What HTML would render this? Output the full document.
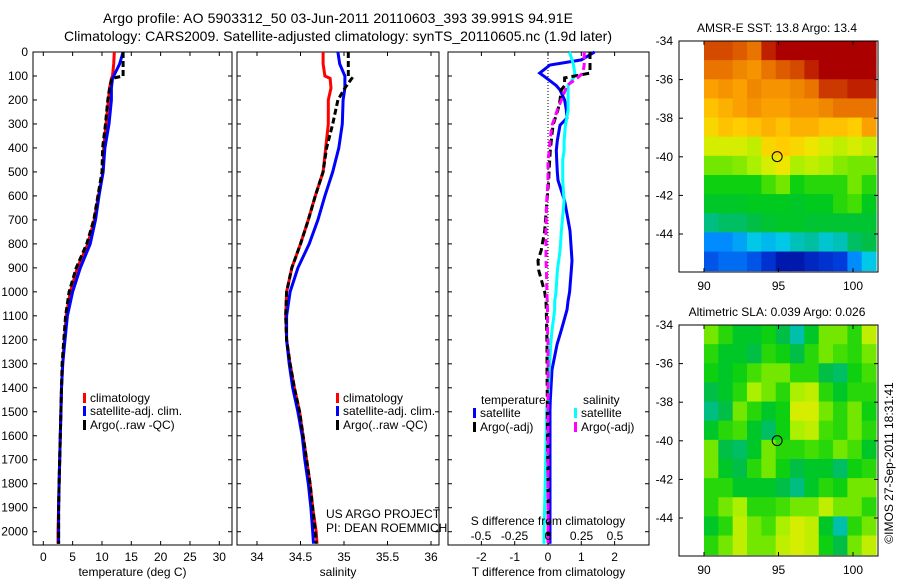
<!DOCTYPE html>
<html><head><meta charset="utf-8"><style>
body{margin:0;background:#fff}
svg{display:block;font-family:"Liberation Sans",sans-serif}
</style></head><body>
<svg id="c" width="900" height="580" viewBox="0 0 900 580">
<rect width="900" height="580" fill="#fff"/>
<text x="338" y="23" font-size="14" text-anchor="middle" textLength="470">Argo profile: AO 5903312_50 03-Jun-2011 20110603_393 39.991S 94.91E</text>
<text x="338" y="41" font-size="14" text-anchor="middle" textLength="548">Climatology: CARS2009. Satellite-adjusted climatology: synTS_20110605.nc (1.9d later)</text>
<g id="g"></g>
</svg>
<script>
// depth grid (m)
const depths=[0,50,100,110,150,200,300,400,500,600,700,800,900,1000,1100,1200,1300,1400,1500,1600,1700,1800,1900,2000,2050];
const tempClim=[12.1,12.0,11.8,11.6,11.3,11.1,10.7,10.3,10.2,9.4,8.7,7.6,5.8,4.6,3.9,3.6,3.3,3.1,3.0,2.9,2.8,2.7,2.6,2.5,2.5];
const tempSat=[13.6,13.0,12.0,11.8,11.6,11.6,11.2,10.5,10.2,9.5,8.9,8.0,6.3,5.0,4.1,3.7,3.3,3.1,3.0,2.9,2.8,2.7,2.6,2.6,2.6];
const tempArgo=[13.6,13.6,13.6,11.7,11.3,11.0,10.6,10.1,10.0,9.3,8.6,7.4,5.6,4.4,3.8,3.5,3.2,3.1,3.0,2.9,2.8,2.7,2.6,2.6,2.6];
const salClim=[34.76,34.76,34.78,34.84,34.85,34.82,34.82,34.79,34.76,34.67,34.59,34.50,34.40,34.34,34.33,34.34,34.38,34.43,34.49,34.53,34.57,34.61,34.64,34.68,34.69];
const salSat=[34.93,34.95,35.01,35.01,35.01,34.99,34.98,34.94,34.87,34.78,34.70,34.60,34.47,34.38,34.34,34.34,34.37,34.41,34.47,34.52,34.55,34.59,34.62,34.64,34.65];
const salArgo=[35.05,35.05,35.05,35.09,35.01,34.93,34.87,34.80,34.76,34.67,34.59,34.50,34.40,34.34,34.33,34.34,34.38,34.43,34.49,34.53,34.57,34.61,34.64,34.67,34.68];
// difference profiles
const diffDepths=[0,33,54,88,108,140,158,200,240,275,305,370,410,450,500,535,620,745,825,870,910,1000,1040,1075,1160,1220,1325,1450,1490,1790,2000,2050];
const dTSat=[1.4,1.0,0.06,-0.25,-0.05,0.25,0.36,0.5,0.55,0.57,0.36,0.28,0.25,0.26,0.28,0.3,0.5,0.66,0.7,0.72,0.7,0.65,0.6,0.57,0.4,0.27,0.12,0.07,0.06,0.06,0.06,0.06];
const dSSat=[0.16,0.18,0.19,0.2,0.19,0.15,0.15,0.15,0.15,0.14,0.13,0.12,0.12,0.11,0.11,0.11,0.12,0.1,0.09,0.08,0.07,0.06,0.05,0.05,0.03,0.02,0.01,0.0,-0.01,-0.02,-0.03,-0.03];
const dTArgo=[1.26,1.26,1.26,1.26,0.5,0.5,0.4,0.36,0.3,0.22,0.15,0.1,0.07,0.05,0.03,0.02,-0.03,-0.1,-0.2,-0.3,-0.28,-0.1,-0.06,-0.05,-0.04,-0.03,-0.03,-0.02,-0.02,0.0,0.0,0.0];
const dSArgo=[0.27,0.27,0.27,0.26,0.22,0.14,0.13,0.1,0.07,0.05,0.03,0.015,0.01,0.0,0.0,0.0,-0.01,-0.015,-0.015,-0.015,-0.012,-0.008,-0.006,-0.004,-0.003,0.0,0.0,0.0,0.0,0.0,0.0,0.0];
const depthTicks=[0,100,200,300,400,500,600,700,800,900,1000,1100,1200,1300,1400,1500,1600,1700,1800,1900,2000];
const tempTicks=[0,5,10,15,20,25,30];
const salTicks=[34,34.5,35,35.5,36];
const dTTicks=[-2,-1,0,1,2];
const dSTicks=[-0.5,-0.25,0,0.25,0.5];
const dSTickLabels=["-0.5","-0.25","0","0.25","0.5"];
const latTicks=[-34,-36,-38,-40,-42,-44];
const lonTicks=[90,95,100];
// SST map (colour index 0..1), rows north->south
const sstGrid=[
[0.9,0.9,0.88,0.85,0.95,1,1,1,1,1,1,1],
[0.85,0.85,0.82,0.8,0.85,0.88,0.9,0.95,1,1,1,1],
[0.78,0.8,0.78,0.82,0.8,0.8,0.82,0.85,0.92,0.92,0.95,0.95],
[0.72,0.75,0.78,0.8,0.78,0.78,0.8,0.8,0.82,0.85,0.85,0.85],
[0.68,0.72,0.7,0.72,0.75,0.72,0.75,0.75,0.72,0.72,0.7,0.78],
[0.62,0.62,0.62,0.6,0.68,0.7,0.68,0.65,0.62,0.6,0.62,0.6],
[0.55,0.55,0.56,0.58,0.62,0.65,0.58,0.6,0.58,0.56,0.55,0.55],
[0.48,0.48,0.48,0.48,0.52,0.55,0.48,0.5,0.5,0.5,0.55,0.5],
[0.45,0.45,0.45,0.46,0.46,0.46,0.45,0.46,0.46,0.5,0.52,0.46],
[0.38,0.4,0.4,0.42,0.44,0.45,0.45,0.44,0.44,0.44,0.44,0.44],
[0.22,0.22,0.25,0.3,0.28,0.3,0.34,0.36,0.32,0.34,0.4,0.42],
[0.15,0.18,0.18,0.15,0.1,0.05,0.05,0.08,0.1,0.12,0.22,0.3]];
const slaGrid=[
[0.55,0.5,0.45,0.45,0.48,0.42,0.35,0.45,0.55,0.55,0.5,0.6],
[0.5,0.45,0.45,0.42,0.5,0.48,0.42,0.5,0.55,0.52,0.5,0.55],
[0.48,0.45,0.48,0.52,0.55,0.55,0.5,0.5,0.42,0.4,0.48,0.52],
[0.42,0.45,0.5,0.58,0.55,0.5,0.58,0.6,0.5,0.45,0.5,0.5],
[0.38,0.42,0.55,0.5,0.45,0.48,0.62,0.62,0.55,0.5,0.55,0.48],
[0.45,0.5,0.52,0.45,0.4,0.48,0.58,0.6,0.52,0.5,0.55,0.5],
[0.55,0.42,0.4,0.45,0.55,0.5,0.5,0.52,0.5,0.55,0.52,0.45],
[0.55,0.45,0.42,0.5,0.55,0.48,0.42,0.45,0.45,0.4,0.48,0.5],
[0.5,0.5,0.45,0.45,0.45,0.42,0.38,0.45,0.5,0.48,0.55,0.55],
[0.5,0.55,0.58,0.5,0.5,0.52,0.55,0.55,0.6,0.55,0.55,0.5],
[0.45,0.5,0.6,0.55,0.52,0.58,0.62,0.6,0.45,0.35,0.5,0.55],
[0.5,0.55,0.6,0.55,0.55,0.6,0.62,0.6,0.48,0.42,0.55,0.6]];
const argoLon=94.91, argoLat=-39.991;

const NS='http://www.w3.org/2000/svg';
const G=document.getElementById('g');
function mk(tag,attrs,parent,txt){const e=document.createElementNS(NS,tag);for(const k in attrs)e.setAttribute(k,attrs[k]);if(txt!==undefined)e.textContent=txt;(parent||G).appendChild(e);return e;}
const yTop=52,yBot=545;
const yD=d=>yTop+d*(531.7-52)/2000;
function lin(d0,d1,r0,r1){return v=>r0+(v-d0)*(r1-r0)/(d1-d0);}

function panel(name,x0,x1,xs,ticksX,labels,title){
  const g=mk('g',{});
  
  
  const r=mk('rect',{x:x0,y:yTop,width:x1-x0,height:yBot-yTop,fill:'none',stroke:'#000','stroke-width':1},g);
  
  
  depthTicks.forEach(d=>{const y=yD(d);
    mk('line',{x1:x0,x2:x0+4,y1:y,y2:y,stroke:'#000'},g);
    mk('line',{x1:x1,x2:x1-4,y1:y,y2:y,stroke:'#000'},g);});
  ticksX.forEach((v,i)=>{const x=xs(v);
    mk('line',{x1:x,x2:x,y1:yTop,y2:yTop+4,stroke:'#000'},g);
    mk('line',{x1:x,x2:x,y1:yBot,y2:yBot-4,stroke:'#000'},g);
    const t=mk('text',{x:x,y:561,'font-size':12,'text-anchor':'middle'},g,labels?labels[i]:String(v));
    
    });
  const tt=mk('text',{x:(x0+x1)/2,y:576,'font-size':12,'text-anchor':'middle'},g,title);
  
  
  return g;
}
function series(g,name,xs,vals,ds,color,dash,w){
  const pts=vals.map((v,i)=>xs(v).toFixed(1)+','+yD(ds[i]).toFixed(1)).join(' ');
  const p=mk('polyline',{points:pts,fill:'none',stroke:color,'stroke-width':w||3,'stroke-dasharray':dash||'none'},g);
  
  
}
function legend(g,x,y,color,label){
  const m=mk('rect',{x:x,y:y-9,width:3,height:10,fill:color},g);
  
  
  const t=mk('text',{x:x+7,y:y,'font-size':12},g,label);
  
  
}

depthTicks.forEach(d=>{const t=mk('text',{x:28,y:yD(d)+4,'font-size':12,'text-anchor':'end'},G,String(d));
  
  });

const xT=lin(0,30,43.3,219.3);
const p1=panel('temperature-panel',33,232,xT,tempTicks,null,'temperature (deg C)');
series(p1,'temp-climatology',xT,tempClim,depths,'#f00');
series(p1,'temp-satellite',xT,tempSat,depths,'#00f');
series(p1,'temp-argo',xT,tempArgo,depths,'#000','6,3');
legend(p1,83,402,'#f00','climatology');
legend(p1,83,415,'#00f','satellite-adj. clim.');
legend(p1,83,429,'#000','Argo(..raw -QC)');

const xS=lin(34,36,257,431);
const p2=panel('salinity-panel',237,439,xS,salTicks,null,'salinity');
series(p2,'sal-climatology',xS,salClim,depths,'#f00');
series(p2,'sal-satellite',xS,salSat,depths,'#00f');
series(p2,'sal-argo',xS,salArgo,depths,'#000','6,3');
legend(p2,336,402,'#f00','climatology');
legend(p2,336,415,'#00f','satellite-adj. clim.');
legend(p2,336,429,'#000','Argo(..raw -QC)');
const n1=mk('text',{x:326,y:518,'font-size':12},p2,'US ARGO PROJECT');


const n2=mk('text',{x:326,y:532,'font-size':12},p2,'PI: DEAN ROEMMICH');



const xdT=lin(0,1,548,581.3);
const xdS=lin(0,0.5,548,615);
const p3=panel('difference-panel',448,649,xdT,dTTicks,null,'T difference from climatology');
mk('line',{x1:548,x2:548,y1:yTop,y2:yBot,stroke:'#000','stroke-dasharray':'1,2'},p3);
series(p3,'dT-satellite',xdT,dTSat,diffDepths,'#00f',null,3);
series(p3,'dS-satellite',xdS,dSSat,diffDepths,'#0ff',null,3);
series(p3,'dT-argo',xdT,dTArgo,diffDepths,'#000','7,4',3);
series(p3,'dS-argo',xdS,dSArgo,diffDepths,'#f0f','7,4',3);
const st=mk('text',{x:548,y:525,'font-size':12,'text-anchor':'middle'},p3,'S difference from climatology');


dSTicks.forEach((v,i)=>{const t=mk('text',{x:xdS(v),y:540,'font-size':12,'text-anchor':'middle'},p3,dSTickLabels[i]);
  
  });
const lt=mk('text',{x:481,y:404,'font-size':12},p3,'temperature');


legend(p3,473,417,'#00f','satellite');
legend(p3,473,431,'#000','Argo(-adj)');
const ls=mk('text',{x:583,y:404,'font-size':12},p3,'salinity');


legend(p3,574,417,'#0ff','satellite');
legend(p3,574,431,'#f0f','Argo(-adj)');

// custom colormap matching the reference palette
const cmapStops=[[0,[0,0,140]],[0.12,[0,60,220]],[0.22,[0,140,255]],[0.3,[0,200,230]],[0.36,[0,190,160]],[0.42,[0,190,70]],[0.47,[0,205,20]],[0.53,[80,225,0]],[0.58,[170,240,0]],[0.64,[235,235,0]],[0.7,[255,205,0]],[0.78,[250,160,0]],[0.86,[230,110,0]],[0.94,[195,40,0]],[1,[170,0,0]]];
function cmap(v){v=Math.max(0,Math.min(1,v));
  for(let i=1;i<cmapStops.length;i++){const a=cmapStops[i-1],b=cmapStops[i];
    if(v<=b[0]){const t=(v-a[0])/(b[0]-a[0]);
      return 'rgb('+a[1].map((c,k)=>Math.round(c+(b[1][k]-c)*t)).join(',')+')';}}
  return 'rgb(170,0,0)';}
function map(name,top,grid,title){
  const g=mk('g',{});
  
  
  const bx0=679,bx1=878,by1=top+231;
  const xL=lin(90,100,704,853), yL=lin(-34,-44,top,top+193);
  const nr=grid.length,nc=grid[0].length;
  const lon0=90,lon1=101.55,lat0=-34,lat1=-45.9;
  grid.forEach((row,ri)=>row.forEach((v,ci)=>{
    const xa=xL(lon0+(lon1-lon0)*ci/nc),xb=xL(lon0+(lon1-lon0)*(ci+1)/nc);
    const ya=yL(lat0+(lat1-lat0)*ri/nr),yb=yL(lat0+(lat1-lat0)*(ri+1)/nr);
    const c=mk('rect',{x:xa,y:ya,width:xb-xa+0.5,height:yb-ya+0.5,fill:cmap(v)},g);
    
    
  }));
  mk('rect',{x:bx0,y:top,width:bx1-bx0,height:by1-top,fill:'none',stroke:'#000'},g);
  latTicks.forEach(l=>{const y=yL(l);
    mk('line',{x1:bx0,x2:bx0+4,y1:y,y2:y,stroke:'#000'},g);
    mk('line',{x1:bx1,x2:bx1-4,y1:y,y2:y,stroke:'#000'},g);
    const t=mk('text',{x:673,y:y+4,'font-size':12,'text-anchor':'end'},g,String(l));
    
    });
  lonTicks.forEach(l=>{const x=xL(l);
    mk('line',{x1:x,x2:x,y1:top,y2:top+4,stroke:'#000'},g);
    mk('line',{x1:x,x2:x,y1:by1,y2:by1-4,stroke:'#000'},g);
    const t=mk('text',{x:x,y:by1+18,'font-size':12,'text-anchor':'middle'},g,String(l));
    
    });
  const c=mk('circle',{cx:xL(argoLon),cy:yL(argoLat),r:5,fill:'none',stroke:'#000'},g);
  
  
  const t=mk('text',{x:777,y:top-9,'font-size':12,'text-anchor':'middle'},g,title);
  
  
}
map('sst-map',41,sstGrid,'AMSR-E SST: 13.8 Argo: 13.4');
map('sla-map',325,slaGrid,'Altimetric SLA: 0.039 Argo: 0.026');
const cr=mk('text',{x:0,y:0,'font-size':12,'text-anchor':'middle',transform:'translate(893,463) rotate(-90)'},G,'©IMOS 27-Sep-2011 18:31:41');


</script>
</body></html>
